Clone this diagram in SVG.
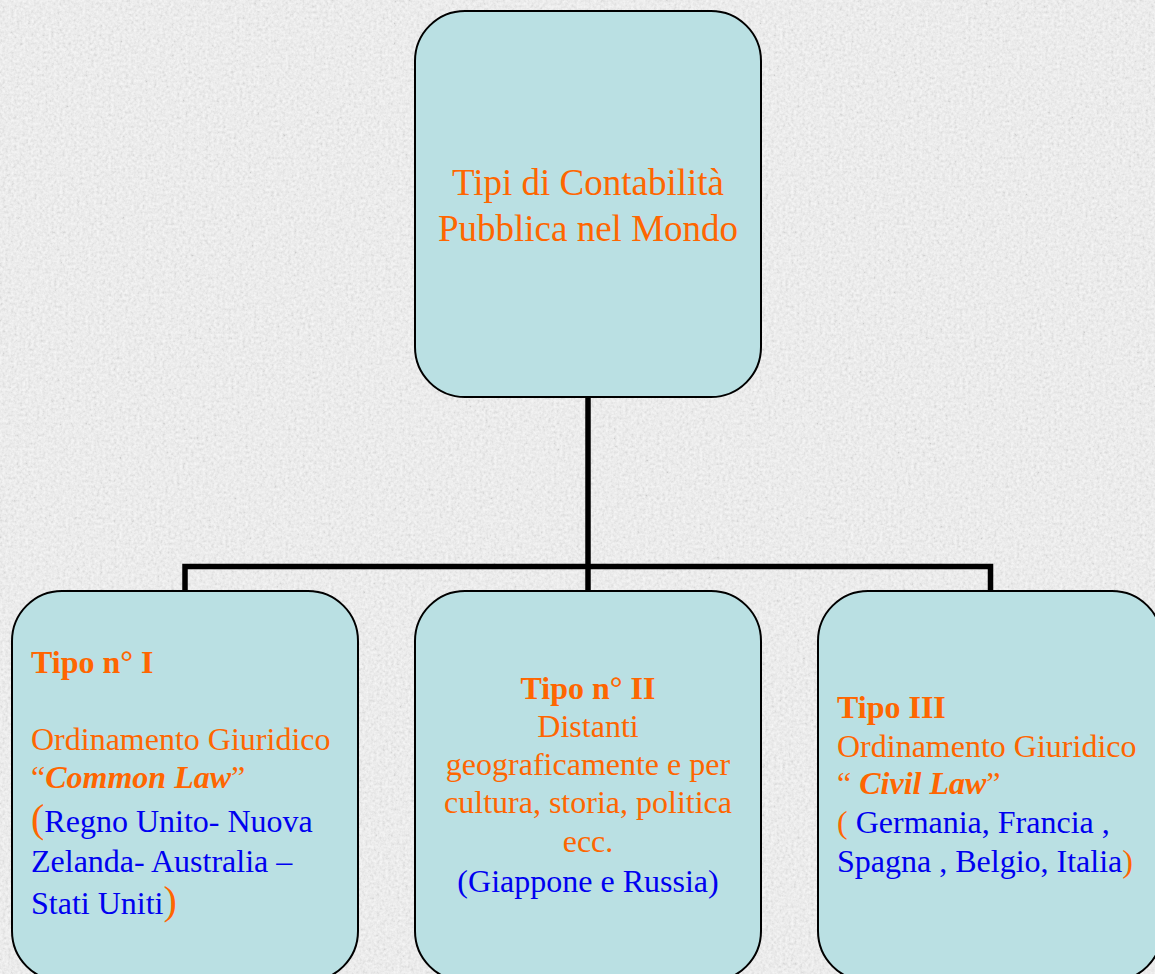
<svg xmlns="http://www.w3.org/2000/svg" width="1155" height="974" viewBox="0 0 1155 974">
  <defs>
    <filter id="grain" x="0" y="0" width="100%" height="100%">
      <feTurbulence type="fractalNoise" baseFrequency="0.35" numOctaves="3" seed="7"/>
      <feColorMatrix type="saturate" values="0"/>
      <feComponentTransfer>
        <feFuncR type="linear" slope="1.6" intercept="-0.3"/>
        <feFuncG type="linear" slope="1.6" intercept="-0.3"/>
        <feFuncB type="linear" slope="1.6" intercept="-0.3"/>
        <feFuncA type="linear" slope="0" intercept="1"/>
      </feComponentTransfer>
    </filter>
    <style>
      .box { fill: #BAE0E3; stroke: #000; stroke-width: 2; }
      .conn { fill: none; stroke: #000; stroke-width: 5.5; stroke-linecap: butt; stroke-linejoin: miter; }
      text { font-family: "Liberation Serif", "Times New Roman", serif; font-size: 32px; }
      .title { font-size: 37px; fill: #FF6600; text-anchor: middle; }
      .or { fill: #FF6600; }
      .bl { fill: #0000F0; }
      .b { font-weight: bold; }
      .bi { font-weight: bold; font-style: italic; }
      .big { font-size: 40px; }
      .mid { text-anchor: middle; }
    </style>
  </defs>

  <rect x="0" y="0" width="1155" height="974" fill="#f6f6f6"/>
  <rect x="0" y="0" width="1155" height="974" filter="url(#grain)" opacity="0.17"/>

  <g id="connectors">
    <path class="conn" d="M588 397 V566.5"/>
    <path class="conn" d="M185 591 V566.5 H990.5 V591"/>
    <path class="conn" d="M588 566.5 V591"/>
  </g>

  <g id="root">
    <rect class="box" x="415" y="11" width="346" height="386" rx="50" ry="50"/>
    <text class="title" x="588" y="195">Tipi di Contabilità</text>
    <text class="title" x="588" y="241">Pubblica nel Mondo</text>
  </g>

  <g id="tipo1">
    <rect class="box" x="12" y="591" width="346" height="390" rx="50" ry="50"/>
    <text class="or b" x="31" y="673">Tipo n° I</text>
    <text class="or" x="31" y="750">Ordinamento Giuridico</text>
    <text class="or" x="31" y="788">“<tspan class="bi">Common Law</tspan>”</text>
    <text x="31" y="832"><tspan class="or big">(</tspan><tspan class="bl">Regno Unito- Nuova</tspan></text>
    <text class="bl" x="31" y="872">Zelanda- Australia –</text>
    <text x="31" y="914"><tspan class="bl">Stati Uniti</tspan><tspan class="or big">)</tspan></text>
  </g>

  <g id="tipo2">
    <rect class="box" x="415" y="591" width="346" height="390" rx="50" ry="50"/>
    <text class="or b mid" x="588" y="699">Tipo n° II</text>
    <text class="or mid" x="588" y="737">Distanti</text>
    <text class="or mid" x="588" y="775">geograficamente e per</text>
    <text class="or mid" x="588" y="813">cultura, storia, politica</text>
    <text class="or mid" x="588" y="852">ecc.</text>
    <text class="bl mid" x="588" y="892">(Giappone e Russia)</text>
  </g>

  <g id="tipo3">
    <rect class="box" x="818" y="591" width="344" height="390" rx="50" ry="50"/>
    <text class="or b" x="837" y="718">Tipo III</text>
    <text class="or" x="837" y="757">Ordinamento Giuridico</text>
    <text class="or" x="837" y="794">“ <tspan class="bi">Civil Law</tspan>”</text>
    <text x="837" y="833"><tspan class="or">( </tspan><tspan class="bl">Germania, Francia ,</tspan></text>
    <text x="837" y="872"><tspan class="bl">Spagna , Belgio, Italia</tspan><tspan class="or">)</tspan></text>
  </g>
</svg>
